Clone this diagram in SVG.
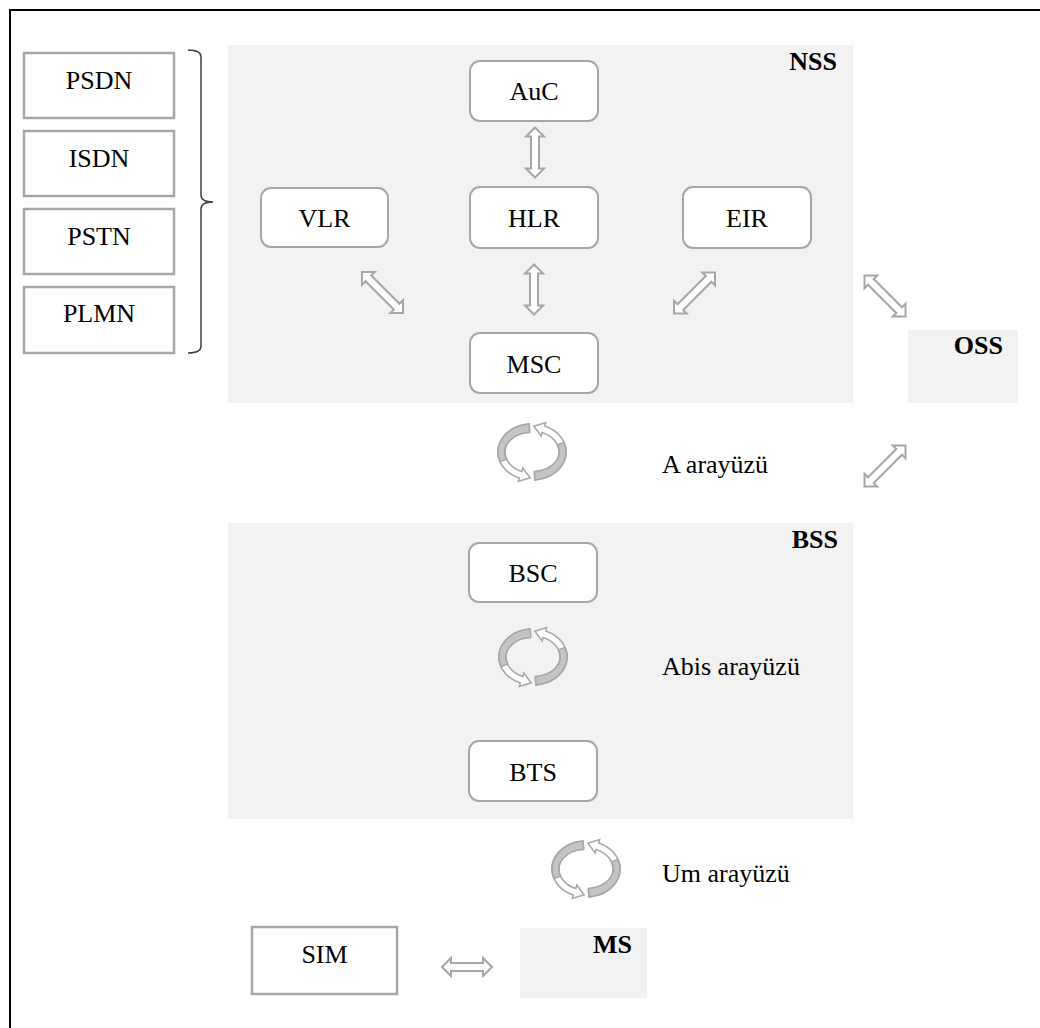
<svg xmlns="http://www.w3.org/2000/svg" xmlns:xlink="http://www.w3.org/1999/xlink" width="1040" height="1028" viewBox="0 0 1040 1028">
<style>
.panel{fill:#f2f2f2;stroke:none}
.node{fill:#ffffff;stroke:#a6a6a6;stroke-width:2}
.sq{fill:#ffffff;stroke:#a6a6a6;stroke-width:2.5}
.t{font-family:"Liberation Serif","Times New Roman",serif;font-size:26px;fill:#000}
.c{text-anchor:middle}
.b{font-weight:bold;text-anchor:end}
.arr{fill:#ffffff;stroke:#a6a6a6;stroke-width:2;stroke-linejoin:miter}
.ring{fill:#ffffff;stroke:#a6a6a6;stroke-width:1.5}
.ringg{fill:#c4c4c4;stroke:#a6a6a6;stroke-width:1.5}
</style>
<defs>
<path id="da50" d="M-25,0 L-16,-9 L-16,-4 L16,-4 L16,-9 L25,0 L16,9 L16,4 L-16,4 L-16,9 Z"/>
<path id="da58" d="M-29,0 L-20,-9 L-20,-4 L20,-4 L20,-9 L29,0 L20,9 L20,4 L-20,4 L-20,9 Z"/>
<g id="half">
<path class="ring" d="M-2.96,-27.9 A34,28 0 0 0 -12.7,26 L-13.6,29.4 L-1.9,25.8 L-9.2,16 L-10.1,19.5 A27,21 0 0 1 -2.35,-20.9 Z"/>
<path class="ringg" d="M-2.96,-27.9 A34,28 0 0 0 -31.9,9.6 L-25.4,7.2 A27,19.5 0 0 1 -2.35,-19.4 Z"/>
</g>
<g id="cyc">
<use xlink:href="#half"/>
<use xlink:href="#half" transform="rotate(180)"/>
</g>
</defs>
<rect x="10" y="10" width="1100" height="1100" fill="#ffffff" stroke="#000000" stroke-width="2"/>

<g id="nss-panel"><rect class="panel" x="228" y="45" width="625" height="358"/><text class="t b" x="837" y="70">NSS</text></g>
<g id="oss-panel"><rect class="panel" x="908" y="330" width="110" height="73"/><text class="t b" x="1003" y="354">OSS</text></g>
<g id="bss-panel"><rect class="panel" x="228" y="523" width="625" height="296"/><text class="t b" x="838" y="548">BSS</text></g>
<g id="ms-panel"><rect class="panel" x="520" y="928" width="127" height="70"/><text class="t b" x="632" y="953">MS</text></g>

<g id="psdn"><rect class="sq" x="24" y="53" width="150" height="65"/><text class="t c" x="99" y="89">PSDN</text></g>
<g id="isdn"><rect class="sq" x="24" y="131" width="150" height="65"/><text class="t c" x="99" y="167">ISDN</text></g>
<g id="pstn"><rect class="sq" x="24" y="209" width="150" height="65"/><text class="t c" x="99" y="245">PSTN</text></g>
<g id="plmn"><rect class="sq" x="24" y="287" width="150" height="66"/><text class="t c" x="99" y="322">PLMN</text></g>
<g id="brace"><path d="M188,50 Q201,50 201,57 L201,195 Q201,202 213,202 Q201,202 201,209 L201,346 Q201,353 188,353" fill="none" stroke="#404040" stroke-width="1.5"/></g>

<g id="auc"><rect class="node" x="470" y="61" width="128" height="60" rx="10"/><text class="t c" x="534" y="100">AuC</text></g>
<g id="vlr"><rect class="node" x="261" y="188" width="127" height="59" rx="10"/><text class="t c" x="324.5" y="227">VLR</text></g>
<g id="hlr"><rect class="node" x="470" y="187" width="128" height="61" rx="10"/><text class="t c" x="534" y="227">HLR</text></g>
<g id="eir"><rect class="node" x="683" y="187" width="128" height="61" rx="10"/><text class="t c" x="747" y="227">EIR</text></g>
<g id="msc"><rect class="node" x="470" y="333" width="128" height="60" rx="10"/><text class="t c" x="534" y="373">MSC</text></g>
<g id="bsc"><rect class="node" x="469" y="543" width="128" height="59" rx="10"/><text class="t c" x="533" y="582">BSC</text></g>
<g id="bts"><rect class="node" x="469" y="741" width="128" height="60" rx="10"/><text class="t c" x="533" y="781">BTS</text></g>
<g id="sim"><rect class="sq" x="252" y="927" width="145" height="67"/><text class="t c" x="324.5" y="963">SIM</text></g>

<g id="connectors">
<use class="arr" xlink:href="#da50" transform="translate(535,152.5) rotate(90)"/>
<use class="arr" xlink:href="#da50" transform="translate(534,289.5) rotate(90)"/>
<use class="arr" xlink:href="#da58" transform="translate(382.5,292.5) rotate(45)"/>
<use class="arr" xlink:href="#da58" transform="translate(694.5,293) rotate(-45)"/>
<use class="arr" xlink:href="#da58" transform="translate(885,296) rotate(45)"/>
<use class="arr" xlink:href="#da58" transform="translate(885,466) rotate(-45)"/>
<use class="arr" xlink:href="#da50" transform="translate(467,967)"/>
<use xlink:href="#cyc" transform="translate(532,452)"/>
<use xlink:href="#cyc" transform="translate(533,657)"/>
<use xlink:href="#cyc" transform="translate(586,869)"/>
</g>

<g id="labels">
<text class="t" x="662" y="473">A arayüzü</text>
<text class="t" x="662" y="675">Abis arayüzü</text>
<text class="t" x="662" y="882">Um arayüzü</text>
</g>
</svg>
